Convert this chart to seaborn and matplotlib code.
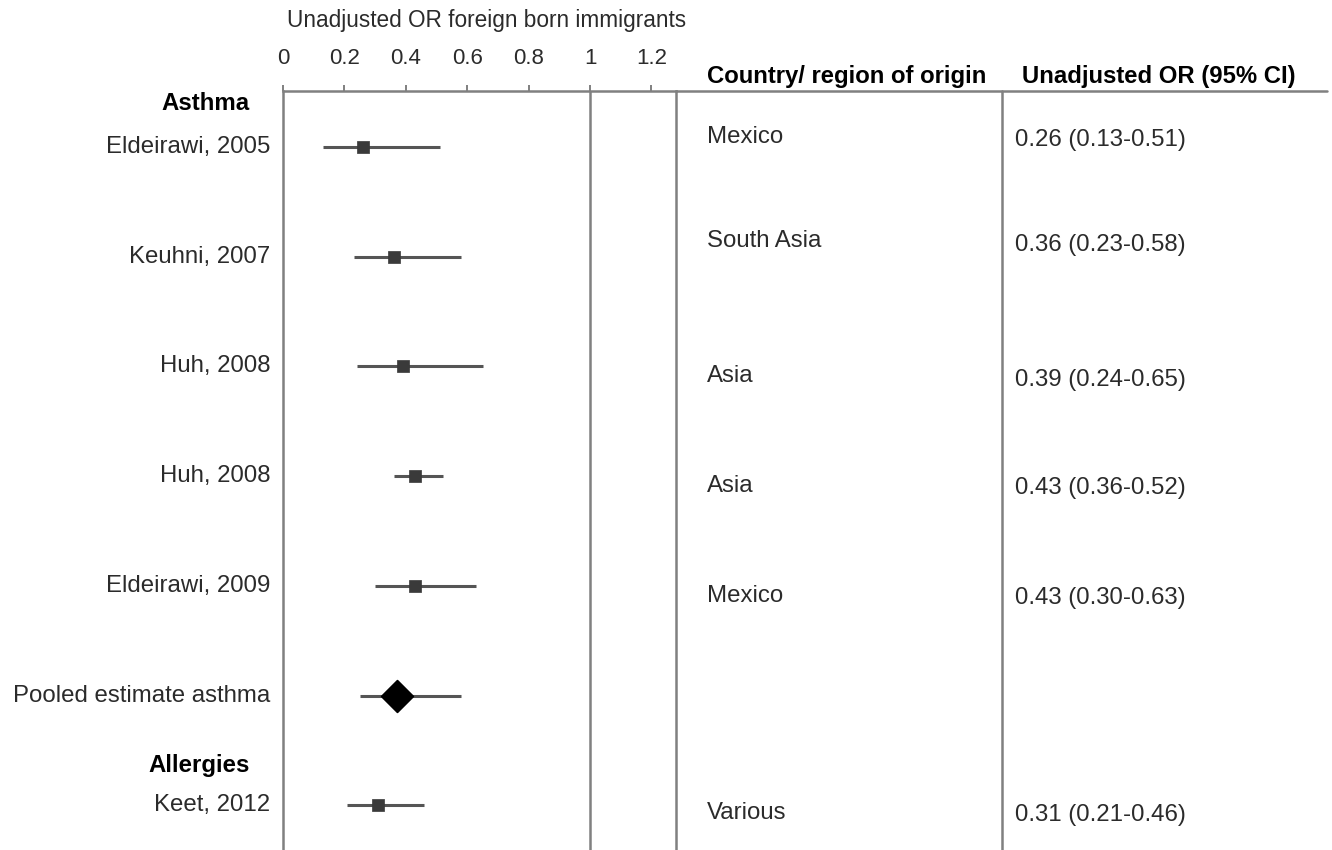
import matplotlib
matplotlib.use("Agg")
import matplotlib.pyplot as plt
from matplotlib.lines import Line2D
import matplotlib.transforms as mtransforms
import numpy as np
import pandas as pd
import seaborn as sns

# ---- data ----
studies = ["Eldeirawi, 2005", "Keuhni, 2007", "Huh, 2008", "Huh, 2008",
           "Eldeirawi, 2009", "Pooled estimate asthma", "Keet, 2012"]
origins = ["Mexico", "South Asia", "Asia", "Asia", "Mexico", "", "Various"]
odds_ratio = [0.26, 0.36, 0.39, 0.43, 0.43, 0.37, 0.31]
ci_low = [0.13, 0.23, 0.24, 0.36, 0.30, 0.25, 0.21]
ci_high = [0.51, 0.58, 0.65, 0.52, 0.63, 0.58, 0.46]
is_pooled = [False, False, False, False, False, True, False]
or_labels = ["0.26 (0.13-0.51)", "0.36 (0.23-0.58)", "0.39 (0.24-0.65)",
             "0.43 (0.36-0.52)", "0.43 (0.30-0.63)", "", "0.31 (0.21-0.46)"]
x_ticks = [0, 0.2, 0.4, 0.6, 0.8, 1, 1.2]
x_ticklabels = ["0", "0.2", "0.4", "0.6", "0.8", "1", "1.2"]
section_titles = ["Asthma", "Allergies"]

# ---- layout helpers ----
W, H = 1332, 850
section_rows = [-0.40, 5.64]
origin_nudge = [-0.09, -0.14, 0.09, 0.09, 0.09, 0.0, 0.07]
orlab_nudge = [-0.06, -0.11, 0.12, 0.11, 0.11, 0.0, 0.09]

sns.set_theme(style="white")
plt.rcParams["font.family"] = ["Liberation Sans", "DejaVu Sans"]
TXT = "#2b2b2b"
LINE = "#808080"
FS_ROW = 17.3
FS_HEAD = 17.2
FS_TICK = 16

fig = plt.figure(figsize=(W / 100, H / 100), dpi=100)
fig.patch.set_facecolor("white")

ax_left, ax_right, ax_top = 283, 676, 91
ax = fig.add_axes([ax_left / W, 0, (ax_right - ax_left) / W, (H - ax_top) / H])
px_per_unit = 307.0
ax.set_xlim(0, (ax_right - ax_left) / px_per_unit)
row_px = 109.7
ax.set_ylim((H - 147) / row_px, (ax_top - 147) / row_px)

df = pd.DataFrame({"row": np.arange(len(studies)), "OR": odds_ratio,
                   "lo": ci_low, "hi": ci_high, "pooled": is_pooled})

# confidence intervals
ax.hlines(df["row"], df["lo"], df["hi"], color="#555555", lw=2.2, zorder=2)
# study estimates
sns.scatterplot(data=df[~df["pooled"]], x="OR", y="row", marker="s", s=80,
                color="#3a3a3a", edgecolor="#3a3a3a", linewidth=0.5, ax=ax,
                zorder=3, legend=False)
# pooled estimate
sns.scatterplot(data=df[df["pooled"]], x="OR", y="row", marker="D", s=260,
                color="black", edgecolor="black", ax=ax, zorder=3, legend=False)

ax.axvline(1, color=LINE, lw=1.8, zorder=1)

for side in ["left", "top", "right"]:
    ax.spines[side].set_visible(True)
    ax.spines[side].set_color(LINE)
    ax.spines[side].set_linewidth(1.8)
ax.spines["bottom"].set_visible(False)
ax.xaxis.tick_top()
ax.set_xticks(x_ticks)
ax.set_xticklabels(x_ticklabels, fontsize=FS_TICK, color=TXT)
ax.tick_params(axis="x", top=True, bottom=False, direction="out", length=4,
               width=1.4, color=LINE, pad=12)
ax.set_yticks([])
ax.set_xlabel("")
ax.set_ylabel("")

# x in figure pixels, y in row units
trans = mtransforms.blended_transform_factory(
    mtransforms.Affine2D().scale(1.0 / W, 1.0) + fig.transFigure, ax.transData)

for r, name in enumerate(studies):
    ax.text(270, r, name, transform=trans, ha="right", va="center",
            fontsize=FS_ROW, color=TXT, clip_on=False)
for r, org in enumerate(origins):
    if org:
        ax.text(707, r + origin_nudge[r], org, transform=trans, ha="left",
                va="center", fontsize=FS_ROW, color=TXT, clip_on=False)
for r, lab in enumerate(or_labels):
    if lab:
        ax.text(1015, r + orlab_nudge[r], lab, transform=trans, ha="left",
                va="center", fontsize=FS_ROW, color=TXT, clip_on=False)
for y, title in zip(section_rows, section_titles):
    ax.text(250, y, title, transform=trans, ha="right", va="center",
            fontsize=FS_ROW, fontweight="bold", color="black", clip_on=False)

# headers
fig.text(287 / W, 1 - 20 / H, "Unadjusted OR foreign born immigrants",
         ha="left", va="center", fontsize=16.3, color=TXT)
fig.text(707 / W, 1 - 77 / H, "Country/ region of origin", ha="left",
         va="center", fontsize=FS_HEAD, fontweight="bold", color="black")
fig.text(1022 / W, 1 - 77 / H, "Unadjusted OR (95% CI)", ha="left",
         va="center", fontsize=FS_HEAD, fontweight="bold", color="black")

# table rules
fig.add_artist(Line2D([ax_right / W, 1327 / W], [1 - ax_top / H, 1 - ax_top / H],
                      transform=fig.transFigure, color=LINE, lw=1.8))
fig.add_artist(Line2D([1002 / W, 1002 / W], [1 - ax_top / H, 0],
                      transform=fig.transFigure, color=LINE, lw=1.8))

fig.savefig("out.png", dpi=100, facecolor="white")
